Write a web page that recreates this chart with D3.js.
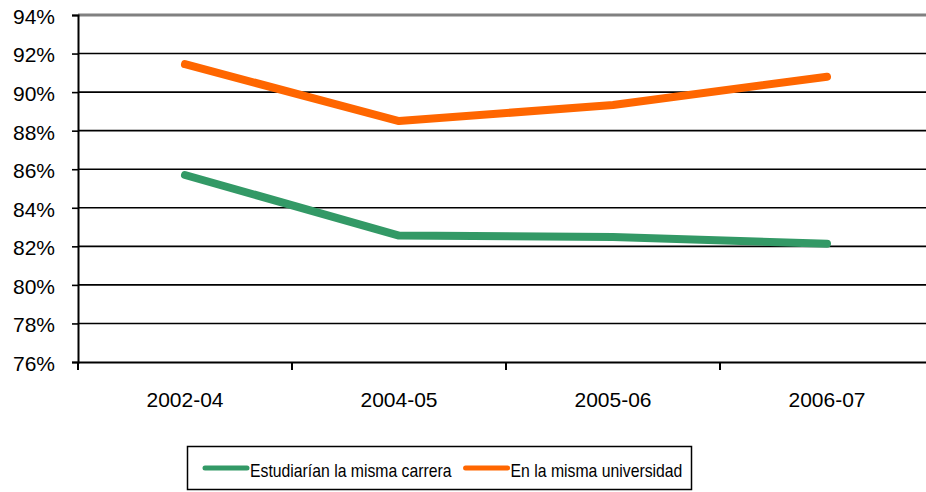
<!DOCTYPE html>
<html>
<head>
<meta charset="utf-8">
<script src="https://cdn.jsdelivr.net/npm/d3@7"></script>
<style>
  body { margin: 0; background: #fff; }
  text { font-family: "Liberation Sans", Arial, sans-serif; fill: #000; }
</style>
</head>
<body>
<svg></svg>
<script>
const periods = ["2002-04", "2004-05", "2005-06", "2006-07"];
const sameCareer = [85.7, 82.56, 82.48, 82.14];
const sameUniversity = [91.45, 88.5, 89.33, 90.8];
const seriesNames = ["Estudiarían la misma carrera", "En la misma universidad"];
const seriesColors = ["#339966", "#ff6600"];
const yTicks = [76, 78, 80, 82, 84, 86, 88, 90, 92, 94];

const svg = d3.select("svg").attr("width", 926).attr("height", 492);

// plot area (right edge runs off the picture like the original)
const plotLeft = 78, plotRight = 934, plotTop = 15, plotBottom = 362;

const x = d3.scaleBand().domain(periods).range([plotLeft, plotRight]).padding(0);
const y = d3.scaleLinear().domain([76, 94]).range([plotBottom, plotTop]);

// gridlines
svg.append("g")
  .selectAll("line")
  .data(yTicks.slice(1, -1))
  .join("line")
  .attr("x1", plotLeft)
  .attr("x2", plotRight)
  .attr("y1", d => y(d))
  .attr("y2", d => y(d))
  .attr("stroke", "#000")
  .attr("stroke-width", 1.6);

// top border
svg.append("line")
  .attr("x1", plotLeft).attr("x2", plotRight)
  .attr("y1", y(94)).attr("y2", y(94))
  .attr("stroke", "#808080")
  .attr("stroke-width", 3);

// y axis
const yAxis = d3.axisLeft(y)
  .tickValues(yTicks)
  .tickSize(6)
  .tickPadding(17)
  .tickFormat(d => d + "%");
const gy = svg.append("g").attr("transform", `translate(${plotLeft},0)`).call(yAxis);
gy.select(".domain").attr("stroke", "#000").attr("stroke-width", 2);
gy.selectAll(".tick line").attr("stroke", "#000").attr("stroke-width", 1.6);
gy.selectAll("text")
  .attr("font-size", 21)
  .attr("dy", "0.4em")
  .attr("font-family", "Liberation Sans, Arial, sans-serif")
  .attr("fill", "#000");

// x axis: ticks between categories
const xAxis = d3.axisBottom(x).tickSize(0).tickPadding(30);
const gx = svg.append("g").attr("transform", `translate(0,${plotBottom})`).call(xAxis);
gx.select(".domain").attr("stroke", "#000").attr("stroke-width", 2);
gx.selectAll("text")
  .attr("font-size", 21)
  .attr("font-family", "Liberation Sans, Arial, sans-serif")
  .attr("fill", "#000");
gx.append("g")
  .selectAll("line")
  .data(periods)
  .join("line")
  .attr("x1", d => x(d))
  .attr("x2", d => x(d))
  .attr("y1", 0)
  .attr("y2", 8)
  .attr("stroke", "#000")
  .attr("stroke-width", 2);

// lines
const line = d3.line()
  .x((d, i) => x(periods[i]) + x.bandwidth() / 2)
  .y(d => y(d));

[sameCareer, sameUniversity].forEach((vals, k) => {
  svg.append("path")
    .datum(vals)
    .attr("d", line)
    .attr("fill", "none")
    .attr("stroke", seriesColors[k])
    .attr("stroke-width", 8)
    .attr("stroke-linecap", "round")
    .attr("stroke-linejoin", "round");
});

// legend
const legend = svg.append("g");
legend.append("rect")
  .attr("x", 187.5)
  .attr("y", 446.5)
  .attr("width", 504)
  .attr("height", 43)
  .attr("fill", "#fff")
  .attr("stroke", "#000")
  .attr("stroke-width", 1.5);

let lx = 205;
seriesNames.forEach((name, k) => {
  legend.append("line")
    .attr("x1", lx).attr("x2", lx + 42)
    .attr("y1", 468).attr("y2", 468)
    .attr("stroke", seriesColors[k])
    .attr("stroke-width", 5)
    .attr("stroke-linecap", "round");
  const t = legend.append("text")
    .attr("x", lx + 45)
    .attr("y", 477)
    .attr("font-size", 19)
    .text(name);
  const w = t.node().getComputedTextLength() * 0.83;
  t.attr("textLength", w).attr("lengthAdjust", "spacingAndGlyphs");
  lx = lx + 45 + w + 14;
});
</script>
</body>
</html>
